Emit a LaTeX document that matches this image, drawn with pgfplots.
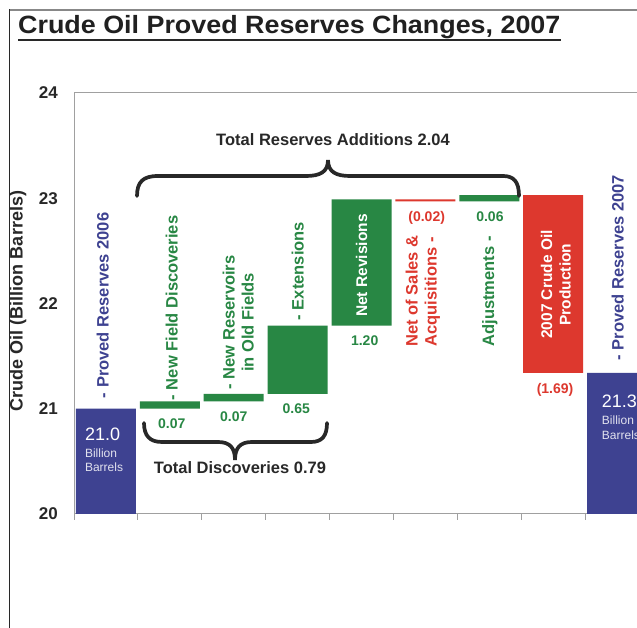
\documentclass[border=0pt]{standalone}
\usepackage{fontspec}
\setmainfont{Liberation Sans}
\usepackage{pgfplots}
\pgfplotsset{compat=1.18}
\usepackage{pgfplotstable}

\definecolor{cblue}{RGB}{62,66,145}
\definecolor{cgreen}{RGB}{40,135,68}
\definecolor{cred}{RGB}{221,56,46}
\definecolor{cdark}{RGB}{40,40,40}
\definecolor{caxis}{RGB}{160,160,160}
\definecolor{cpale}{RGB}{225,225,238}

\newcommand{\fs}[1]{\fontsize{#1}{#1}\selectfont}

\tikzset{
  rlab/.style={rotate=90, inner sep=0pt, font=\fontsize{16.5}{19}\selectfont\bfseries},
  wlab/.style={rotate=90, inner sep=0pt, anchor=center, align=center, text=white, font=\fontsize{15.5}{18.5}\selectfont\bfseries},
  vlab/.style={inner sep=0pt, anchor=north, yshift=-10pt, font=\fontsize{14}{14}\selectfont\bfseries},
  tlab/.style={inner sep=0pt, anchor=base west},
}

% waterfall: invisible base + coloured segment
\pgfplotstableread{
x   base  green red  blue
0.5 0     0     0    21.00
1.5 21.00 0.07  0    0
2.5 21.07 0.07  0    0
3.5 21.14 0.65  0    0
4.5 21.79 1.20  0    0
5.5 22.97 0     0.02 0
6.5 22.97 0.06  0    0
7.5 21.34 0     1.69 0
8.5 0     0     0    21.34
}\wf

\begin{document}
\begin{tikzpicture}
\useasboundingbox (0pt,0pt) rectangle (637pt,628pt);
\clip (0pt,0pt) rectangle (637pt,628pt);
\fill[white] (0pt,0pt) rectangle (637pt,628pt);

\begin{axis}[
  at={(74pt,114pt)}, anchor=south west, scale only axis,
  width=575pt, height=421pt,
  xmin=0, xmax=9, ymin=20, ymax=24,
  ybar stacked, bar width=60pt,
  axis line style={caxis, line width=1pt},
  xtick={0,...,9}, xticklabels={}, xtick pos=left, tick align=outside,
  major tick length=6pt, xtick style={caxis, line width=0.8pt},
  ytick={20,21,22,23,24}, ytick style={draw=none},
  yticklabel style={font=\fontsize{17}{17}\selectfont\bfseries, text=cdark, inner sep=0pt, xshift=-10pt},
  /pgf/number format/assume math mode=true,
]
\addplot[draw=none, fill=none] table[x=x,y=base]{\wf};
\addplot[draw=none, fill=cgreen] table[x=x,y=green]{\wf};
\addplot[draw=none, fill=cred] table[x=x,y=red]{\wf};
\addplot[draw=none, fill=cblue] table[x=x,y=blue]{\wf};

% anchor points for texts drawn after the bars
\coordinate (l0) at (axis cs:0.45,21.10);
\coordinate (l1) at (axis cs:1.53,21.08);
\coordinate (l2) at (axis cs:2.57,21.82);
\coordinate (l3) at (axis cs:3.5,21.84);
\coordinate (l4) at (axis cs:4.5,22.36);
\coordinate (l5) at (axis cs:5.46,21.59);
\coordinate (l6) at (axis cs:6.51,21.59);
\coordinate (l7) at (axis cs:7.54,22.18);
\coordinate (l8) at (axis cs:8.51,21.46);

\coordinate (v1) at (axis cs:1.53,21.00);
\coordinate (v2) at (axis cs:2.50,21.07);
\coordinate (v3) at (axis cs:3.48,21.14);
\coordinate (v4) at (axis cs:4.55,21.79);
\coordinate (v5) at (axis cs:5.52,22.97);
\coordinate (v6) at (axis cs:6.51,22.97);
\coordinate (v7) at (axis cs:7.53,21.34);

\coordinate (a1) at (axis cs:0.17,20.70);
\coordinate (a2) at (axis cs:0.17,20.54);
\coordinate (a3) at (axis cs:0.17,20.40);
\coordinate (b1) at (axis cs:8.26,21.01);
\coordinate (b2) at (axis cs:8.26,20.85);
\coordinate (b3) at (axis cs:8.26,20.71);
\end{axis}

% rotated category labels
\node[rlab, anchor=west, text=cblue] at (l0) {- Proved Reserves 2006};
\node[rlab, anchor=west, text=cgreen] at (l1) {- New Field Discoveries};
\node[rlab, anchor=center, align=center, text=cgreen] at (l2) {- New Reservoirs\\in Old Fields};
\node[rlab, anchor=west, text=cgreen] at (l3) {- Extensions};
\node[wlab] at (l4) {Net Revisions};
\node[rlab, anchor=west, align=left, text=cred] at (l5) {Net of Sales \&\\Acquisitions -};
\node[rlab, anchor=west, text=cgreen] at (l6) {Adjustments -};
\node[wlab] at (l7) {2007 Crude Oil\\Production};
\node[rlab, anchor=west, text=cblue] at (l8) {- Proved Reserves 2007};

% value labels under each change
\node[vlab, text=cgreen] at (v1) {0.07};
\node[vlab, text=cgreen] at (v2) {0.07};
\node[vlab, text=cgreen] at (v3) {0.65};
\node[vlab, text=cgreen] at (v4) {1.20};
\node[vlab, text=cred]   at (v5) {(0.02)};
\node[vlab, text=cgreen] at (v6) {0.06};
\node[vlab, text=cred]   at (v7) {(1.69)};

% totals inside the blue bars
\node[tlab, text=white, font=\fs{18}] at (a1) {21.0};
\node[tlab, text=cpale, font=\fs{12}] at (a2) {Billion};
\node[tlab, text=cpale, font=\fs{12}] at (a3) {Barrels};
\node[tlab, text=white, font=\fs{18}] at (b1) {21.3};
\node[tlab, text=cpale, font=\fs{12}] at (b2) {Billion};
\node[tlab, text=cpale, font=\fs{12}] at (b3) {Barrels};

% annotations in picture (pixel) coordinates, y measured from the top
\begin{scope}[x=1pt, y=-1pt, yshift=628pt]
\draw[caxis!85!black, line width=1.3pt] (9.5,10) -- (637,10);
\draw[cdark, line width=1.4pt] (9.5,9.4) -- (9.5,628);
\node[anchor=base west, inner sep=0pt, font=\fs{25}\bfseries, text=cdark!80!black] (title) at (18,34) {\scalebox{1.075}[1]{Crude Oil Proved Reserves Changes, 2007}};
\draw[line width=1.8pt, cdark] ([yshift=-6pt]title.base west) -- ([yshift=-6pt]title.base east);
\node[rotate=90, font=\fs{18}\bfseries, text=cdark, inner sep=0pt] at (18,301) {Crude Oil (Billion Barrels)};

\draw[cdark, line width=3.7pt, line cap=round]
  (137,196) .. controls (137,182) and (143,176) .. (158,176) -- (306,176)
  .. controls (320,176) and (328,172) .. (328,160)
  .. controls (328,172) and (336,176) .. (350,176) -- (503,176)
  .. controls (514,176) and (519,182) .. (519,196);
\draw[cdark, line width=3.7pt, line cap=round]
  (144,423) .. controls (144,436) and (150,442) .. (162,442) -- (218,442)
  .. controls (230,442) and (235,448) .. (235,460)
  .. controls (235,448) and (240,442) .. (252,442) -- (311,442)
  .. controls (322,442) and (327,436) .. (327,423);
\node[font=\fs{16.5}\bfseries, text=cdark, inner sep=0pt] at (333,140) {Total Reserves Additions 2.04};
\node[font=\fs{16.5}\bfseries, text=cdark, inner sep=0pt] at (240,468) {Total Discoveries 0.79};
\end{scope}
\end{tikzpicture}
\end{document}
